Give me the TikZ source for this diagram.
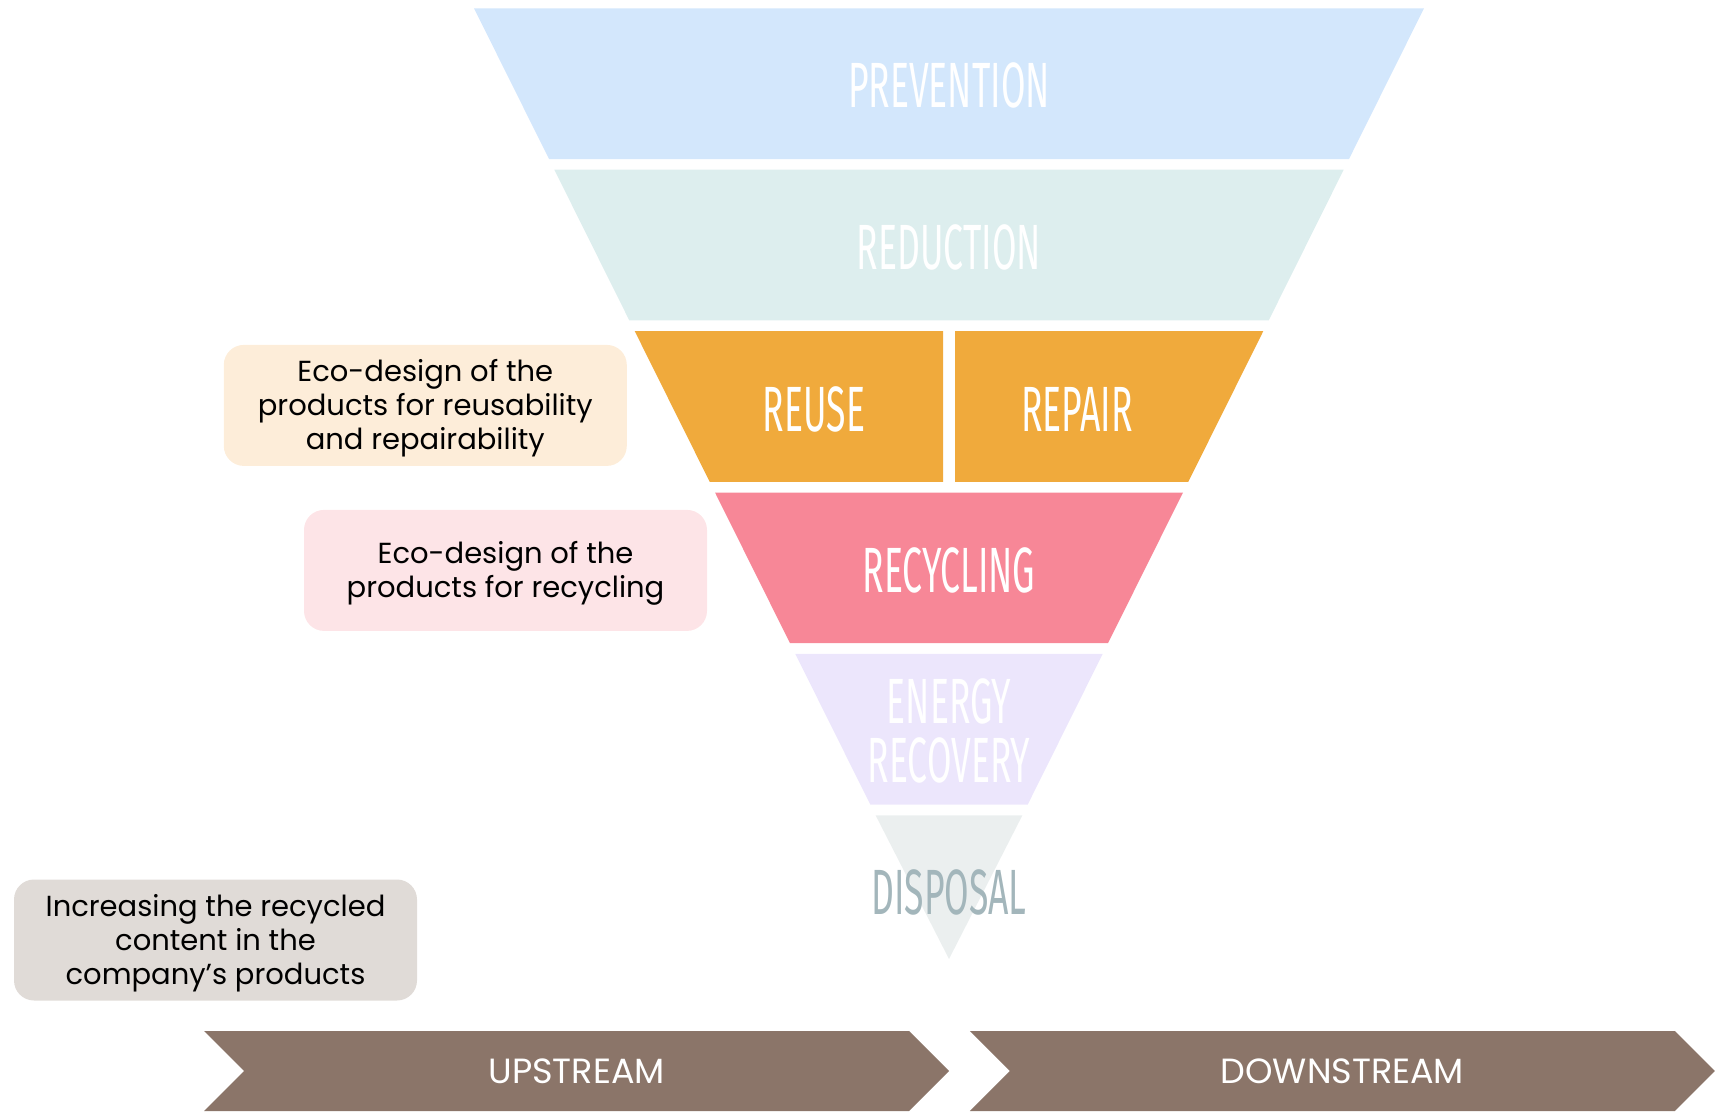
\documentclass[tikz,border=0pt]{standalone}
\usepackage{fontspec}
\setmainfont{Poppins}
\newfontfamily\bandfont[FakeStretch=0.555]{Fira Sans}
\usetikzlibrary{shapes.symbols}

\definecolor{preventionColor}{HTML}{D3E7FC}
\definecolor{reductionColor}{HTML}{DDEEEE}
\definecolor{reuseColor}{HTML}{F0AA3C}
\definecolor{recyclingColor}{HTML}{F78797}
\definecolor{energyColor}{HTML}{ECE6FC}
\definecolor{disposalColor}{HTML}{EBEFEF}
\definecolor{disposalText}{HTML}{A3B6BB}
\definecolor{reuseBoxColor}{HTML}{FDEDD9}
\definecolor{recycleBoxColor}{HTML}{FDE4E7}
\definecolor{contentBoxColor}{HTML}{E0DBD7}
\definecolor{streamColor}{HTML}{8B7569}

\begin{document}
\begin{tikzpicture}[x = 1pt, y = -1pt]
	\tikzstyle{bandLabel} = [text = white, inner sep = 0pt, font = {\bandfont\fontsize{64}{59}\selectfont}]
	\tikzstyle{noteBox} = [rounded corners = 20pt, minimum width = 403pt, minimum height = 121pt, inner sep = 0pt, align = center, font = {\fontsize{29}{34}\selectfont}]
	\tikzstyle{streamArrow} = [signal, signal from = west, signal to = east, signal pointer angle = 90, fill = streamColor, minimum width = 745pt, minimum height = 80pt, inner sep = 0pt, text = white, font = {\fontsize{35}{40}\selectfont}]
	\useasboundingbox (0,0) rectangle (1729,1111);
	\fill[preventionColor] (474,8.3) -- (1424,8.3) -- (1349,159) -- (549,159) -- cycle;
	\fill[reductionColor] (554.3,169.7) -- (1343.7,169.7) -- (1268.7,320.4) -- (629.3,320.4) -- cycle;
	\fill[reuseColor] (634.7,331.1) -- (943,331.1) -- (943,481.8) -- (709.7,481.8) -- cycle;
	\fill[reuseColor] (955,331.1) -- (1263.3,331.1) -- (1188.3,481.8) -- (955,481.8) -- cycle;
	\fill[recyclingColor] (715,492.5) -- (1183,492.5) -- (1108,643.2) -- (790,643.2) -- cycle;
	\fill[energyColor] (795.3,653.9) -- (1102.7,653.9) -- (1027.7,804.6) -- (870.3,804.6) -- cycle;
	\fill[disposalColor] (875.6,815.3) -- (1022.4,815.3) -- (949,959) -- cycle;
	\node[bandLabel] (prevention) at (949,85) {PREVENTION};
	\node[bandLabel] (reduction) at (949,247) {REDUCTION};
	\node[bandLabel] (reuse) at (814,409) {REUSE};
	\node[bandLabel] (repair) at (1077,409) {REPAIR};
	\node[bandLabel] (recycling) at (949,570) {RECYCLING};
	\node[bandLabel, align = center] (energy) at (949,731) {ENERGY\\RECOVERY};
	\node[bandLabel, text = disposalText] (disposal) at (949,892) {DISPOSAL};
	\node[noteBox, fill = reuseBoxColor] (reuseBox) at (425.3,405.4) {};
	\node[align = center, font = {\fontsize{29}{34}\selectfont}] (reuseText) at (425.3,408.5) {Eco-design of the\\products for reusability\\and repairability};
	\node[noteBox, fill = recycleBoxColor] (recycleBox) at (505.5,570.4) {};
	\node[align = center, font = {\fontsize{29}{34}\selectfont}] (recycleText) at (505.5,573.5) {Eco-design of the\\products for recycling};
	\node[noteBox, fill = contentBoxColor] (contentBox) at (215.5,940) {};
	\node[align = center, font = {\fontsize{29}{34}\selectfont}] (contentText) at (215.5,943) {Increasing the recycled\\content in the\\company’s products};
	\node[streamArrow] (upstream) at (576.7,1071) {UPSTREAM};
	\node[streamArrow] (downstream) at (1342.3,1071) {DOWNSTREAM};
\end{tikzpicture}
\end{document}
